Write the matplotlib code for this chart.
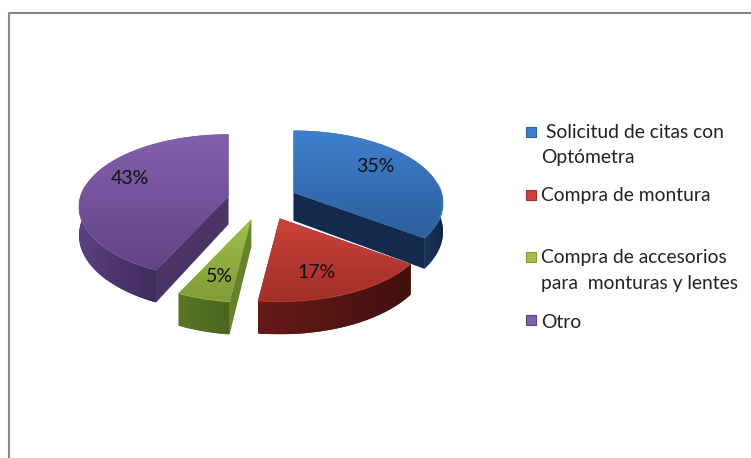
"""Exploded 3D-look pie chart of reasons for contacting the optician."""
import numpy as np
import matplotlib
matplotlib.use("Agg")
import matplotlib.pyplot as plt
from matplotlib.colors import LinearSegmentedColormap
from matplotlib.patches import Polygon

categories = ["Solicitud de citas con Optómetra", "Compra de montura",
              "Compra de accesorios para  monturas y lentes", "Otro"]
values = [35, 17, 5, 43]

# Colours: top gradient, radial face, outer wall (edge to edge)
top_colors = [("#3F80CE", "#2C5F9C"), ("#CC423C", "#A22F29"),
              ("#A0C04A", "#7F9C37"), ("#8260AC", "#624486")]
face_colors = ["#142A4C", "#4A1210", "#64832A", "#4A3366"]
wall_colors = [("#1A3559", "#12274A"), ("#651B18", "#43100E"),
               ("#5A7625", "#4C651E"), ("#5A4080", "#3F2B5C")]

# Pie geometry in pixels
CX, CY = 263, 200
RX, RY = 148, 71
PERSP = 0.145
THICK = 28
EXPLODE = 0.246

zorder = 2


def scale(theta):
    return 1 / (1 + PERSP * np.cos(theta))


def rim(theta, apex):
    s = scale(theta)
    return apex[0] + RX * np.sin(theta) * s, apex[1] - RY * np.cos(theta) * s


def gradient(ax, pts, c1, c2, vertical=True):
    """Fill a polygon with a linear gradient, above everything so far."""
    global zorder
    zorder += 1
    pts = np.asarray(pts)
    cmap = LinearSegmentedColormap.from_list("g", [c1, c2])
    grad = np.linspace(0, 1, 64)
    grad = grad[:, None] if vertical else grad[None, :]
    x0, y0 = pts.min(axis=0)
    x1, y1 = pts.max(axis=0)
    ax.add_patch(Polygon(pts, closed=True, facecolor=cmap(0.5),
                         edgecolor="none", zorder=zorder))
    im = ax.imshow(grad, cmap=cmap, extent=(x0, x1, y1, y0), aspect="auto",
                   interpolation="bilinear", zorder=zorder + 0.5)
    im.set_clip_path(Polygon(pts, closed=True, transform=ax.transData))


plt.rcParams["font.family"] = ["Lato", "DejaVu Sans"]
fig = plt.figure(figsize=(7.51, 4.58), dpi=100)
ax = fig.add_axes([0, 0, 1, 1])

# Slice angles from the values, clockwise from north
edges = np.cumsum([0] + values) / sum(values) * 2 * np.pi
slices = []
for i in range(len(values)):
    a0, a1 = edges[i], edges[i + 1]
    mid = (a0 + a1) / 2
    s = scale(mid)
    apex = (CX + EXPLODE * RX * np.sin(mid) * s,
            CY - EXPLODE * RY * np.cos(mid) * s)
    slices.append((i, a0, a1, apex))

# Painter's order: back slices first
for i, a0, a1, apex in [slices[3], slices[0], slices[2], slices[1]]:
    theta = np.linspace(a0, a1, 80)
    xs, ys = rim(theta, apex)
    drop = THICK * scale(theta)

    # radial faces
    for a in (a0, a1):
        ox, oy = rim(a, apex)
        face = [apex, (ox, oy), (ox, oy + THICK * scale(a)),
                (apex[0], apex[1] + THICK)]
        zorder += 1
        ax.add_patch(Polygon(face, closed=True, facecolor=face_colors[i],
                             edgecolor="none", zorder=zorder))

    # outer wall
    front = np.cos(theta) < 0.15
    if front.any():
        wx, wy, wd = xs[front], ys[front], drop[front]
        wall = np.vstack([np.column_stack([wx, wy]),
                          np.column_stack([wx, wy + wd])[::-1]])
        gradient(ax, wall, *wall_colors[i], vertical=False)

    # top surface
    top = np.vstack([[apex], np.column_stack([xs, ys])])
    gradient(ax, top, *top_colors[i])
    zorder += 1
    ax.plot(xs[front], ys[front], color=top_colors[i][0], lw=0.8, alpha=0.6,
            solid_capstyle="round", zorder=zorder)

# Percent labels
label_xy = [(375, 167), (317, 273), (219, 276), (130, 178)]
for val, (lx, ly) in zip(values, label_xy):
    ax.text(lx, ly, f"{val}%", ha="center", va="center", fontsize=14,
            color="#111111", zorder=100)

# Legend, wrapped by hand like the original
legend_y = [132, 195, 257, 320]
legend_lines = [[(546, 132, "Solicitud de citas con"), (541, 157, "Optómetra")],
                [(541, 196, "Compra de montura")],
                [(541, 258, "Compra de accesorios"),
                 (541, 284, "para  monturas y lentes")],
                [(541, 322, "Otro")]]
for i, y in enumerate(legend_y):
    ax.scatter([530.5], [y], marker="s", s=46, color=top_colors[i][0],
               edgecolor=top_colors[i][1], linewidth=0.8, zorder=100)
    for lx, ly, txt in legend_lines[i]:
        ax.text(lx, ly, txt, ha="left", va="center", fontsize=13.9,
                color="#222222", zorder=100)

# Chart frame, only top and left are inside the crop
ax.plot([8.5, 8.5, 751], [458, 12.5, 12.5], color="#868686", lw=1.5, zorder=1)

ax.set_xlim(0, 751)
ax.set_ylim(458, 0)
ax.axis("off")
fig.savefig("out.png", dpi=100)
